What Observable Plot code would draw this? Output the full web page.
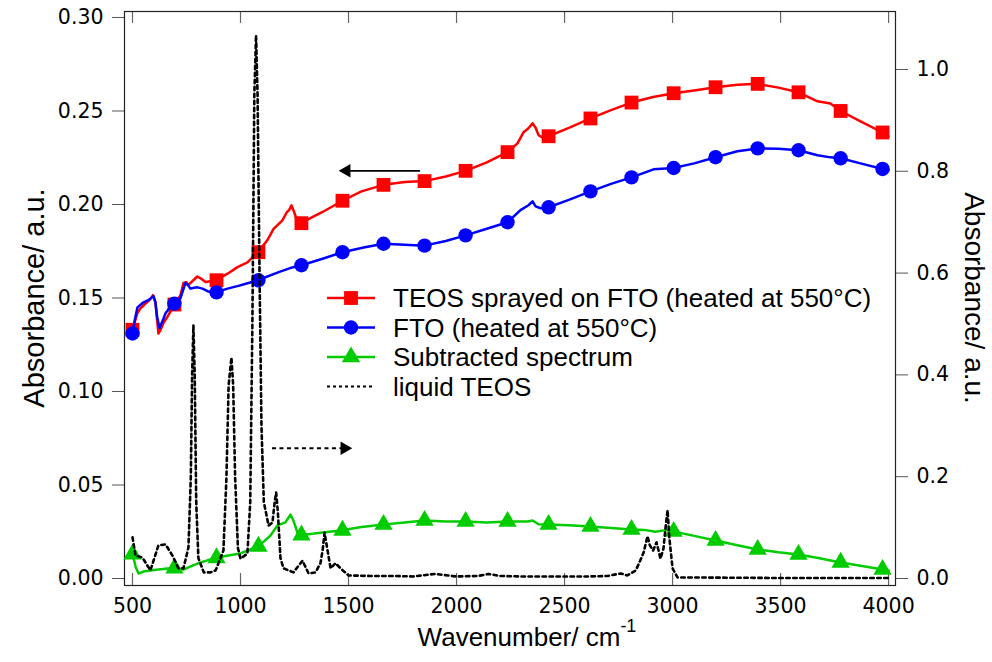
<!DOCTYPE html>
<html>
<head>
<meta charset="utf-8">
<script src="https://cdn.jsdelivr.net/npm/d3@7"></script>
<script src="https://cdn.jsdelivr.net/npm/@observablehq/plot@0.6"></script>
<style>
  html, body { margin: 0; padding: 0; background: white; }
  #chart { position: relative; width: 992px; height: 662px; }
</style>
</head>
<body>
<div id="chart"></div>
<script>
// ---------- DATA ----------
const xTicks = [500, 1000, 1500, 2000, 2500, 3000, 3500, 4000];
const leftTicks = [0, 0.05, 0.10, 0.15, 0.20, 0.25, 0.30];
const rightTicks = [0, 0.2, 0.4, 0.6, 0.8, 1.0];

// TEOS sprayed on FTO (heated at 550°C) — left axis
const teosFto = [
  [500,0.133],[510,0.137],[523,0.142],[537,0.1445],[560,0.147],[580,0.149],[595,0.1515],[606,0.148],
  [614,0.138],[620,0.131],[630,0.133],[645,0.137],[662,0.140],[690,0.1455],[722,0.1515],[736,0.158],
  [748,0.1585],[759,0.157],[782,0.1595],[800,0.1615],[815,0.1605],[838,0.1585],[860,0.159],[884,0.1595],
  [910,0.161],[940,0.163],[986,0.1665],[1032,0.169],[1079,0.1745],[1105,0.178],[1125,0.181],[1153,0.187],
  [1194,0.1915],[1215,0.196],[1225,0.197],[1236,0.1995],[1248,0.196],[1260,0.192],[1278,0.190],
  [1380,0.196],[1472,0.202],[1560,0.207],[1662,0.2105],[1760,0.212],[1852,0.2125],[1950,0.215],
  [2042,0.218],[2140,0.2225],[2236,0.228],[2282,0.2327],[2310,0.2386],[2333,0.2408],[2352,0.2434],
  [2366,0.241],[2380,0.237],[2403,0.2354],[2426,0.2365],[2520,0.241],[2620,0.246],[2715,0.2505],
  [2810,0.2545],[2910,0.2575],[3005,0.2595],[3100,0.261],[3199,0.2627],[3300,0.264],[3394,0.2645],
  [3490,0.2625],[3583,0.260],[3671,0.2552],[3731,0.254],[3778,0.250],[3870,0.2445],[3972,0.2385],[4000,0.2365]
];

// FTO (heated at 550°C) — left axis
const fto = [
  [500,0.131],[510,0.138],[523,0.145],[551,0.1477],[575,0.149],[597,0.151],[606,0.1477],[614,0.140],
  [625,0.134],[640,0.138],[653,0.1418],[690,0.1475],[722,0.150],[745,0.158],[756,0.157],[768,0.155],
  [785,0.1555],[801,0.1557],[824,0.155],[850,0.1535],[884,0.153],[940,0.155],[990,0.1565],[1037,0.158],
  [1079,0.1595],[1180,0.164],[1230,0.166],[1282,0.1675],[1380,0.171],[1472,0.1745],[1570,0.177],
  [1662,0.179],[1760,0.1785],[1852,0.178],[1950,0.1805],[2042,0.1835],[2140,0.187],[2236,0.1905],
  [2296,0.197],[2333,0.1996],[2352,0.2017],[2366,0.199],[2389,0.198],[2426,0.1985],[2520,0.2025],
  [2620,0.207],[2715,0.211],[2810,0.2145],[2912,0.2188],[3005,0.2195],[3100,0.222],[3199,0.2253],
  [3300,0.2285],[3394,0.2300],[3490,0.2298],[3583,0.229],[3671,0.2263],[3731,0.2252],[3778,0.2247],
  [3870,0.222],[3972,0.219],[4000,0.2185]
];

// Subtracted spectrum — left axis
const subtracted = [
  [500,0.0134],[515,0.006],[528,0.0027],[551,0.0037],[600,0.0045],[662,0.0054],[700,0.0055],[736,0.0048],
  [770,0.0065],[801,0.008],[861,0.0102],[930,0.012],[1000,0.0134],[1079,0.0171],[1110,0.020],[1139,0.023],
  [1171,0.0284],[1208,0.030],[1231,0.0342],[1245,0.031],[1268,0.023],[1370,0.0245],[1463,0.0257],
  [1560,0.0275],[1662,0.0289],[1760,0.030],[1852,0.031],[1950,0.0305],[2042,0.0305],[2140,0.030],
  [2236,0.0305],[2330,0.0305],[2352,0.031],[2380,0.029],[2426,0.0289],[2520,0.0285],[2620,0.0278],
  [2715,0.027],[2810,0.0262],[2870,0.026],[2920,0.0250],[2977,0.026],[3005,0.0251],[3100,0.0228],
  [3199,0.0203],[3300,0.0178],[3394,0.0155],[3490,0.014],[3583,0.0128],[3680,0.0108],[3778,0.0086],
  [3870,0.0068],[3972,0.0048],[4000,0.0042]
];

// liquid TEOS — right axis
const liquidTeos = [
  [500,0.081],[514,0.045],[546,0.041],[583,0.016],[620,0.065],[653,0.067],[685,0.045],[713,0.02],
  [736,0.02],[759,0.061],[770,0.2],[776,0.4],[782,0.497],[788,0.4],[795,0.15],[805,0.04],[830,0.012],
  [861,0.012],[885,0.016],[921,0.055],[935,0.2],[945,0.38],[958,0.434],[966,0.38],[975,0.2],[988,0.06],
  [1000,0.039],[1032,0.049],[1045,0.15],[1055,0.5],[1064,0.95],[1072,1.067],[1079,0.95],[1088,0.6],
  [1097,0.3],[1108,0.15],[1130,0.104],[1148,0.11],[1158,0.15],[1165,0.169],[1173,0.13],[1185,0.04],
  [1199,0.02],[1245,0.012],[1287,0.035],[1315,0.01],[1347,0.012],[1370,0.03],[1380,0.055],[1389,0.09],
  [1403,0.055],[1417,0.02],[1440,0.03],[1463,0.02],[1500,0.006],[1600,0.005],[1700,0.005],[1800,0.004],
  [1900,0.009],[2000,0.004],[2100,0.005],[2150,0.009],[2200,0.005],[2300,0.004],[2400,0.004],
  [2500,0.004],[2600,0.004],[2700,0.005],[2760,0.01],[2790,0.006],[2830,0.016],[2850,0.035],
  [2866,0.051],[2884,0.083],[2895,0.065],[2910,0.055],[2926,0.071],[2944,0.039],[2958,0.059],
  [2970,0.11],[2977,0.134],[2985,0.08],[3000,0.02],[3023,0.002],[3100,0.002],[3500,0.001],[4000,0.001]
];

// marker positions (shared wavenumbers) and values
const markerX = [500,694,889,1083,1282,1472,1662,1852,2042,2236,2426,2620,2810,3005,3199,3394,3583,3778,3972];
const teosFtoMarkers = [0.133,0.1465,0.1595,0.1745,0.190,0.202,0.2105,0.2125,0.218,0.228,0.2365,0.246,0.2545,0.2595,0.2627,0.2645,0.260,0.250,0.2385];
const ftoMarkers = [0.131,0.147,0.153,0.1595,0.1675,0.1745,0.179,0.178,0.1835,0.1905,0.1985,0.207,0.2145,0.2195,0.2253,0.230,0.229,0.2247,0.219];
const subtractedMarkers = [0.013,0.0055,0.011,0.0172,0.0232,0.0257,0.0289,0.031,0.0305,0.0305,0.0289,0.0278,0.0262,0.0251,0.0203,0.0155,0.0128,0.0086,0.0048];

// annotation arrows (x from -> x to, y in left-axis units)
const arrows = [
  {x1: 1833, x2: 1463, y: 0.218, dashed: false},
  {x1: 1148, x2: 1509, y: 0.0696, dashed: true}
];

const legendLabels = ["TEOS sprayed on FTO (heated at 550°C)", "FTO (heated at 550°C)", "Subtracted spectrum", "liquid TEOS"];
const legendColors = ["#ff0000", "#0000ff", "#00cc00", "#000000"];
const legendSymbols = ["square", "circle", "triangle", null];

// ---------- CHART ----------
const W = 992, H = 662;
const mL = 124, mR = 97, mT = 11, mB = 77;
const innerH = H - mT - mB;
const k = 0.2722; // right-axis unit in left-axis units

const RED = legendColors[0], BLUE = legendColors[1], GREEN = legendColors[2];

const pts = (arr) => arr.map(([x, y]) => ({x, y}));
const mk = (vals) => vals.map((y, i) => ({x: markerX[i], y}));
const teosScaled = liquidTeos.map(([x, y]) => ({x, y: y * k}));

const plot = Plot.plot({
  width: W, height: H,
  marginLeft: mL, marginRight: mR, marginTop: mT, marginBottom: mB,
  style: {fontFamily: "'DejaVu Sans', sans-serif", fontSize: "20.5px", color: "black", background: "white", overflow: "visible"},
  x: {domain: [463, 4032]},
  y: {domain: [-0.00374, 0.3032]},
  marks: [
    Plot.axisY({ticks: leftTicks, tickFormat: d => d.toFixed(2), tickSize: 12, tickPadding: 9, label: null, stroke: "#555"}),
    Plot.axisY({anchor: "right", ticks: rightTicks.map(t => t * k), tickFormat: d => (d / k).toFixed(1), tickSize: 12, tickPadding: 9, label: null, stroke: "#555"}),
    Plot.axisX({ticks: xTicks, tickFormat: d => String(d), tickSize: 0, tickPadding: 13, label: null}),
    Plot.ruleX(xTicks, {x: d => d, insetTop: innerH - 12, stroke: "#666", strokeWidth: 1.2}),
    Plot.ruleX(xTicks, {x: d => d, insetBottom: innerH - 12, stroke: "#666", strokeWidth: 1.2}),
    Plot.frame({stroke: "#222", strokeWidth: 1.2}),

    Plot.line(pts(teosFto), {x: "x", y: "y", stroke: RED, strokeWidth: 2.5}),
    Plot.dot(mk(teosFtoMarkers), {x: "x", y: "y", symbol: "square", r: 7.8, fill: RED}),
    Plot.line(pts(fto), {x: "x", y: "y", stroke: BLUE, strokeWidth: 2.5}),
    Plot.dot(mk(ftoMarkers), {x: "x", y: "y", symbol: "circle", r: 7.2, fill: BLUE}),
    Plot.line(pts(subtracted), {x: "x", y: "y", stroke: GREEN, strokeWidth: 2.5}),
    Plot.dot(mk(subtractedMarkers), {x: "x", y: "y", symbol: "triangle", r: 6.8, fill: GREEN}),

    Plot.line(teosScaled, {x: "x", y: "y", stroke: "black", strokeWidth: 2.6, strokeDasharray: "3.5,3.5"}),

    // arrows
    Plot.ruleY(arrows.filter(a => !a.dashed), {y: "y", x1: "x1", x2: "x2", stroke: "black", strokeWidth: 1.8}),
    Plot.ruleY(arrows.filter(a => a.dashed), {y: "y", x1: "x1", x2: "x2", stroke: "black", strokeWidth: 2, strokeDasharray: "4,3.5"}),
    Plot.dot(arrows, {x: "x2", y: "y", symbol: "triangle", r: 5, fill: "black",
      rotate: d => d.x2 > d.x1 ? 90 : -90})
  ]
});

const svg = d3.select(plot);

// arrow heads: shift so the apex is at x2
svg.selectAll("g[aria-label='dot']").filter((d, i, n) => i === n.length - 1).selectAll("path")
  .each(function(d, i) {
    const a = arrows[i];
    const t = d3.select(this).attr("transform");
    const dx = a.x2 > a.x1 ? -6 : 6;
    d3.select(this).attr("transform", `translate(${dx},0) ` + t);
  });

const labelFont = "'Liberation Sans', Arial, Helvetica, sans-serif";

// x label with superscript
const xl = svg.append("text")
  .attr("x", 527).attr("y", 646)
  .attr("text-anchor", "middle")
  .style("font-family", labelFont).style("font-size", "26px").attr("fill", "black");
xl.append("tspan").text("Wavenumber/ cm");
xl.append("tspan").attr("dy", -14).style("font-size", "18px").text("-1");

// left y label
svg.append("text")
  .attr("transform", `translate(44,${mT + innerH / 2}) rotate(-90)`)
  .attr("text-anchor", "middle")
  .style("font-family", labelFont).style("font-size", "29px").attr("fill", "black")
  .text("Absorbance/ a.u.");

// right y label
svg.append("text")
  .attr("transform", `translate(965,${mT + innerH / 2}) rotate(90)`)
  .attr("text-anchor", "middle")
  .style("font-family", labelFont).style("font-size", "28px").attr("fill", "black")
  .text("Absorbance/ a.u.");

// legend
const lg = svg.append("g").attr("transform", "translate(327,298)");
legendLabels.forEach((lab, i) => {
  const g = lg.append("g").attr("transform", `translate(0,${i * 29.5})`);
  g.append("line").attr("x1", 0).attr("x2", 48).attr("y1", 0).attr("y2", 0)
    .attr("stroke", legendColors[i]).attr("stroke-width", legendSymbols[i] ? 2.5 : 2.2)
    .attr("stroke-dasharray", legendSymbols[i] ? null : "3,3");
  if (legendSymbols[i]) {
    const r = legendSymbols[i] === "square" ? 7.8 : legendSymbols[i] === "circle" ? 7.2 : 6.8;
    const sym = legendSymbols[i] === "square" ? d3.symbolSquare : legendSymbols[i] === "circle" ? d3.symbolCircle : d3.symbolTriangle;
    g.append("path").attr("transform", "translate(24,0)")
      .attr("d", d3.symbol(sym, Math.PI * r * r)()).attr("fill", legendColors[i]);
  }
  g.append("text").attr("x", 66).attr("y", 0).attr("dy", "0.36em")
    .attr("text-anchor", "start")
    .style("font-family", labelFont).style("font-size", "26px").attr("fill", "black")
    .text(lab);
});

document.getElementById("chart").appendChild(plot);
</script>
</body>
</html>
